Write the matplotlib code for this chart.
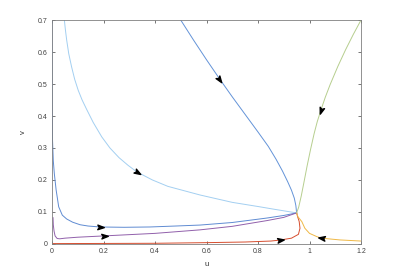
import numpy as np
import matplotlib
matplotlib.use("Agg")
import matplotlib.pyplot as plt
from matplotlib.markers import MarkerStyle
from matplotlib.path import Path
from matplotlib.transforms import Affine2D

plt.rcParams["font.family"] = ["Liberation Sans", "DejaVu Sans"]

# trajektorije (u, v) očitane sa slike, sve završavaju u ravnotežnoj tački
traj_steep_u = [0.50, 0.55, 0.60, 0.65, 0.70, 0.75, 0.80, 0.84, 0.87, 0.895, 0.915, 0.93, 0.941, 0.947, 0.95]
traj_steep_v = [0.70, 0.637, 0.576, 0.517, 0.46, 0.405, 0.35, 0.305, 0.265, 0.228, 0.195, 0.168, 0.143, 0.12, 0.097]

traj_light_u = [0.048, 0.052, 0.057, 0.065, 0.076, 0.088, 0.102, 0.117, 0.135, 0.16, 0.193, 0.225,
                0.26, 0.295, 0.33, 0.39, 0.45, 0.575, 0.70, 0.80, 0.866, 0.95]
traj_light_v = [0.70, 0.67, 0.6375, 0.595, 0.554, 0.515, 0.48, 0.45, 0.42, 0.38, 0.335, 0.30,
                0.27, 0.246, 0.225, 0.2, 0.18, 0.153, 0.13, 0.117, 0.108, 0.097]

traj_blue_u = [0.0, 0.001, 0.002, 0.005, 0.009, 0.016, 0.026, 0.04, 0.057, 0.08, 0.109, 0.14, 0.186,
               0.28, 0.38, 0.48, 0.575, 0.70, 0.835, 0.90, 0.95]
traj_blue_v = [0.70, 0.45, 0.325, 0.26, 0.22, 0.169, 0.116, 0.09, 0.078, 0.068, 0.06, 0.056, 0.053,
               0.052, 0.053, 0.056, 0.059, 0.067, 0.081, 0.089, 0.097]

traj_purple_u = [0.004, 0.005, 0.008, 0.012, 0.02, 0.03, 0.05, 0.10, 0.20, 0.30, 0.40, 0.575, 0.70,
                 0.835, 0.90, 0.95]
traj_purple_v = [0.082, 0.06, 0.04, 0.025, 0.017, 0.016, 0.018, 0.021, 0.025, 0.029, 0.033, 0.044,
                 0.055, 0.073, 0.083, 0.097]

traj_red_u = [0.0, 0.2, 0.4, 0.6, 0.75, 0.85, 0.885, 0.93, 0.957, 0.963, 0.96, 0.954, 0.95]
traj_red_v = [0.001, 0.0015, 0.002, 0.004, 0.006, 0.009, 0.012, 0.018, 0.03, 0.049, 0.07, 0.085, 0.097]

traj_orange_u = [1.2, 1.118, 1.047, 1.028, 1.0, 0.982, 0.97, 0.955, 0.95]
traj_orange_v = [0.009, 0.0125, 0.018, 0.023, 0.033, 0.049, 0.07, 0.085, 0.097]

traj_green_u = [1.2, 1.17, 1.14, 1.11, 1.08, 1.061, 1.045, 1.03, 1.018, 1.004, 0.991, 0.979, 0.968,
                0.958, 0.95]
traj_green_v = [0.70, 0.655, 0.607, 0.555, 0.498, 0.458, 0.42, 0.382, 0.345, 0.295, 0.245, 0.195, 0.15,
                0.115, 0.097]

# (u, v, boja, indeks tačke sa strelicom)
TRAJ = [
    (traj_steep_u, traj_steep_v, "#6393d8", 3),
    (traj_light_u, traj_light_v, "#a3cff1", 14),
    (traj_blue_u, traj_blue_v, "#5f8bd2", 12),
    (traj_purple_u, traj_purple_v, "#9160ab", 8),
    (traj_red_u, traj_red_v, "#d64d2e", 6),
    (traj_orange_u, traj_orange_v, "#efb846", 2),
    (traj_green_u, traj_green_v, "#b6ce8e", 6),
]

fig = plt.figure(figsize=(4.0, 2.75), dpi=100)
ax = fig.add_axes([0.13, 0.113, 0.7725, 0.814])
ax.set_xlim(0, 1.2)
ax.set_ylim(0, 0.7)

# strelica sa zarezom (kao u MATLAB-u)
arrow_path = Path([(1, 0), (-0.7, 0.6), (-0.3, 0), (-0.7, -0.6), (1, 0)],
                  [Path.MOVETO, Path.LINETO, Path.LINETO, Path.LINETO, Path.CLOSEPOLY])

for u, v, color, ia in TRAJ:
    ax.plot(u, v, color=color, lw=0.7, zorder=2)
    p0 = ax.transData.transform((u[ia - 1], v[ia - 1]))
    p1 = ax.transData.transform((u[ia + 1], v[ia + 1]))
    ang = np.degrees(np.arctan2(p1[1] - p0[1], p1[0] - p0[0]))
    m = MarkerStyle(arrow_path, transform=Affine2D().rotate_deg(ang))
    ax.plot(u[ia], v[ia], marker=m, color="k", markersize=5.5, zorder=3, linestyle="")

ax.set_xticks(np.arange(0, 1.21, 0.2))
ax.set_yticks(np.arange(0, 0.71, 0.1))
ax.set_xticklabels(["0", "0.2", "0.4", "0.6", "0.8", "1", "1.2"])
ax.set_yticklabels(["0", "0.1", "0.2", "0.3", "0.4", "0.5", "0.6", "0.7"])
ax.tick_params(direction="in", length=2.5, width=0.5, labelsize=5, colors="#404040",
               top=True, right=True, pad=3)
for s in ax.spines.values():
    s.set_linewidth(0.6)
    s.set_color("#808080")
ax.set_xlabel("u", fontsize=5.5, color="#303030", labelpad=4)
ax.set_ylabel("v", fontsize=5.5, color="#303030", labelpad=8)

fig.savefig("out.png", dpi=100)
